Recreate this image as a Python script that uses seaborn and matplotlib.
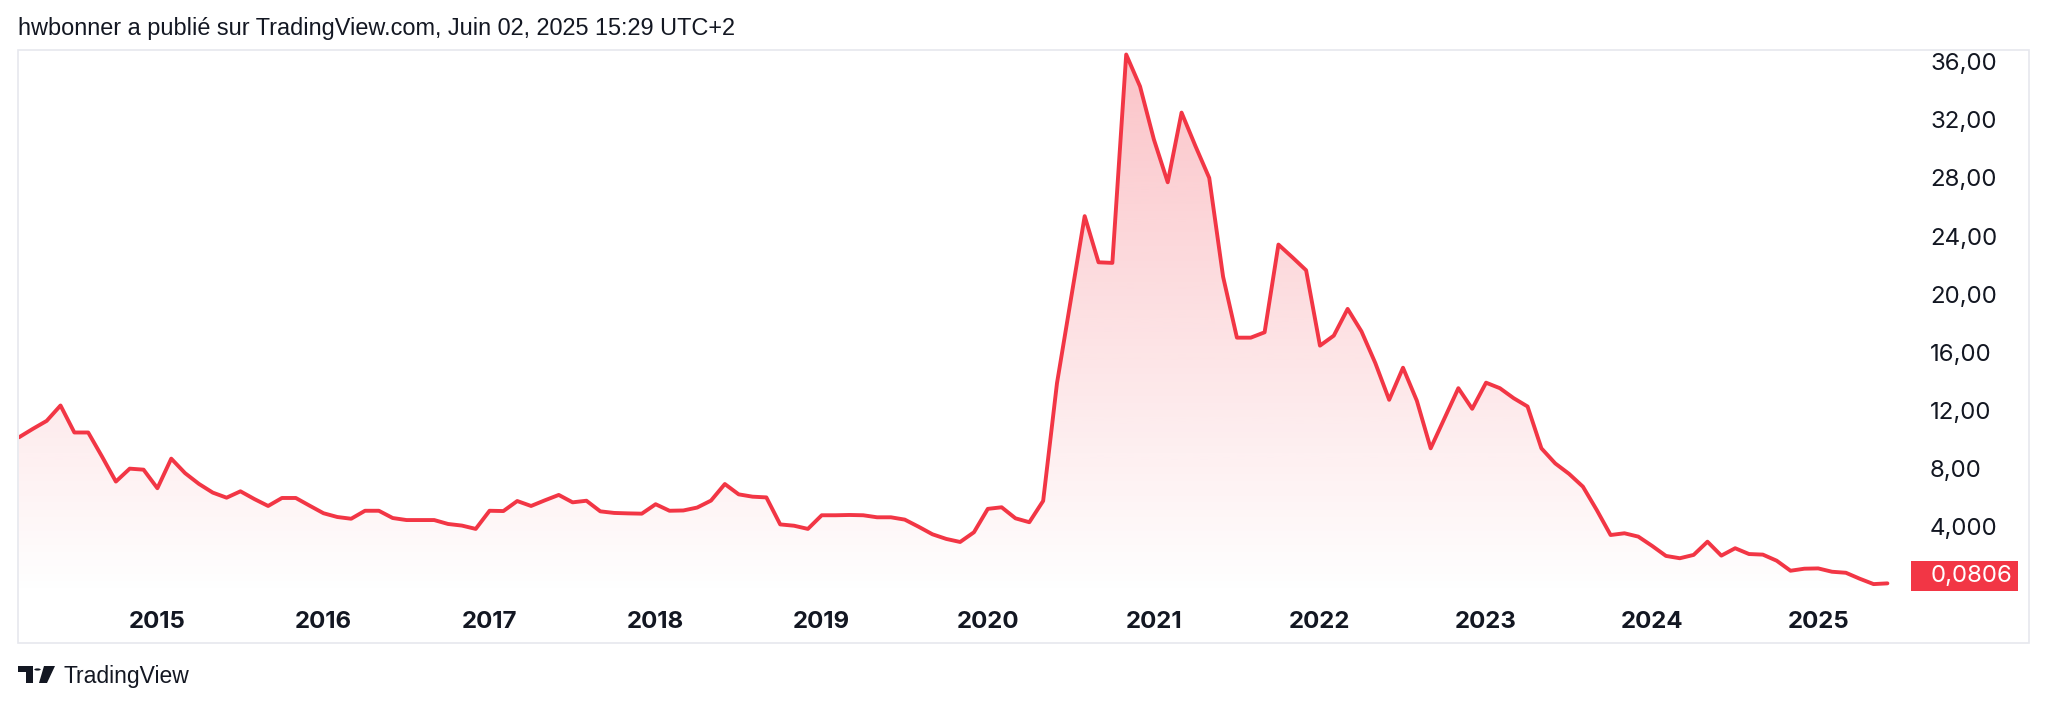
import numpy as np
import pandas as pd
import seaborn as sns
import matplotlib.pyplot as plt
from matplotlib.patches import Rectangle, Polygon, Circle

# monthly closes, Mar 2014 -> Jun 2025
v2014 = [10.14, 10.72, 11.27, 12.33, 10.47, 10.47, 8.81, 7.09, 7.98, 7.91]
v2015 = [6.63, 8.67, 7.67, 6.93, 6.33, 5.98, 6.42, 5.89, 5.41, 5.96, 5.96, 5.43]
v2016 = [4.91, 4.65, 4.53, 5.08, 5.08, 4.58, 4.44, 4.44, 4.44, 4.17, 4.06, 3.83]
v2017 = [5.08, 5.06, 5.75, 5.41, 5.80, 6.17, 5.66, 5.77, 5.04, 4.93, 4.90, 4.88]
v2018 = [5.53, 5.08, 5.10, 5.30, 5.78, 6.92, 6.21, 6.05, 6.00, 4.14, 4.05, 3.83]
v2019 = [4.77, 4.77, 4.79, 4.77, 4.63, 4.63, 4.47, 3.98, 3.46, 3.14, 2.93, 3.60]
v2020 = [5.21, 5.32, 4.56, 4.29, 5.76, 13.87, 19.60, 25.37, 22.19, 22.15, 36.50, 34.30]
v2021 = [30.65, 27.70, 32.50, 30.20, 28.00, 21.20, 17.00, 17.00, 17.37, 23.41, 22.54, 21.64]
v2022 = [16.45, 17.14, 18.98, 17.43, 15.25, 12.72, 14.93, 12.66, 9.38, 11.45, 13.52, 12.10]
v2023 = [13.90, 13.52, 12.83, 12.26, 9.38, 8.34, 7.62, 6.74, 5.13, 3.41, 3.53, 3.30]
v2024 = [2.66, 1.97, 1.81, 2.04, 2.95, 1.99, 2.50, 2.10, 2.06, 1.64, 0.95, 1.09]
v2025 = [1.11, 0.88, 0.81, 0.40, 0.03, 0.0806]

price_ticks = [4, 8, 12, 16, 20, 24, 28, 32, 36]
price_labels = ["4,000", "8,00", "12,00", "16,00", "20,00", "24,00", "28,00", "32,00", "36,00"]
last_label = "0,0806"
header = "hwbonner a publié sur TradingView.com, Juin 02, 2025 15:29 UTC+2"

values = v2014 + v2015 + v2016 + v2017 + v2018 + v2019 + v2020 + v2021 + v2022 + v2023 + v2024 + v2025
df = pd.DataFrame({"date": pd.date_range("2014-03-01", periods=len(values), freq="MS"), "close": values})
df["bar"] = np.arange(len(df))
jan = df[df["date"].dt.month == 1]

RED = "#F23645"
TXT = "#131722"
W, H = 2048, 709
BAR = 13.84  # px per monthly bar

sns.set_theme(style="white")
plt.rcParams["font.family"] = ["Inter", "DejaVu Sans"]

fig = plt.figure(figsize=(W / 100, H / 100), dpi=100)
fig.patch.set_facecolor("white")

# pane in pixel coords: x 19..1910, y 50..596
ax = fig.add_axes([19 / W, 1 - 596 / H, (1910 - 19) / W, (596 - 50) / H])
ax.set_facecolor("white")
xmax = (1910 - 19) / BAR
ymin, ymax = -0.79, 36.81
ax.set_xlim(0, xmax)
ax.set_ylim(ymin, ymax)

sns.lineplot(data=df, x="bar", y="close", ax=ax, color=RED, linewidth=2.8, zorder=3)

# gradient area under the line
area = ax.fill_between(df["bar"], df["close"], ymin, color="none", lw=0)
grad = np.zeros((256, 1, 4))
grad[:, :, 0] = 242 / 255
grad[:, :, 1] = 54 / 255
grad[:, :, 2] = 69 / 255
grad[:, 0, 3] = np.linspace(0.0, 0.30, 256)
im = ax.imshow(grad, extent=[0, xmax, ymin, ymax], origin="lower", aspect="auto", zorder=2)
im.set_clip_path(area.get_paths()[0], transform=ax.transData)

ax.set_xlabel("")
ax.set_ylabel("")
for s in ax.spines.values():
    s.set_visible(False)
ax.grid(False)

ax.yaxis.tick_right()
ax.set_yticks(price_ticks)
ax.set_yticklabels(price_labels, fontsize=17.3, color=TXT)
ax.tick_params(axis="y", length=0, pad=14.4)

ax.set_xticks(jan["bar"])
ax.set_xticklabels(jan["date"].dt.year.astype(str), fontsize=17.3, fontweight="bold", color=TXT)
ax.tick_params(axis="x", length=0, pad=11)

# last price tag
fig.add_artist(Rectangle((1911 / W, 1 - 591 / H), 107 / W, 30 / H, transform=fig.transFigure,
                         facecolor=RED, edgecolor="none", zorder=5))
fig.text(1931 / W, 1 - 576 / H, last_label, color="white", fontsize=17.3,
         ha="left", va="center", zorder=6)

# outer frame
fig.add_artist(Rectangle((18 / W, 1 - 643 / H), (2029 - 18) / W, (643 - 50) / H,
                         transform=fig.transFigure, fill=False, edgecolor="#e6e8ee", lw=1.2))

fig.text(18 / W, 1 - 29 / H, header, fontsize=16.9, color=TXT, va="center",
         family=["Liberation Sans", "DejaVu Sans"])

# TradingView logo
def px(x, y):
    return (x / W, 1 - y / H)

fig.add_artist(Polygon([px(18, 666), px(33, 666), px(33, 683), px(26, 683), px(26, 672), px(18, 672)],
                       closed=True, transform=fig.transFigure, facecolor=TXT, edgecolor="none"))
fig.add_artist(Circle(px(37.5, 669.5), 3.2 / W, transform=fig.transFigure, facecolor=TXT, edgecolor="none"))
fig.add_artist(Polygon([px(44, 666), px(55, 666), px(47, 683), px(39, 683)],
                       closed=True, transform=fig.transFigure, facecolor=TXT, edgecolor="none"))
fig.text(63 / W, 1 - 676 / H, "TradingView", fontsize=16.5, color=TXT, va="center",
         family=["Liberation Sans", "DejaVu Sans"])

fig.savefig("out.png", dpi=100, facecolor="white")
